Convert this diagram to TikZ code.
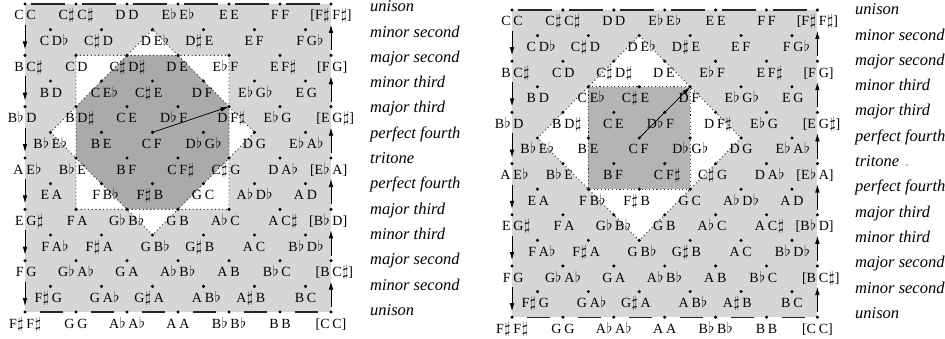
\documentclass[tikz,border=0pt]{standalone}
\usepackage{fontspec}
\setmainfont{Liberation Serif}
\usetikzlibrary{arrows.meta}
\definecolor{lightg}{RGB}{212,214,215}
\definecolor{darkgL}{RGB}{170,170,170}
\definecolor{darkgR}{RGB}{180,181,179}
\newcommand\shp{\kern0.6pt\scalebox{1.12}{$\sharp$}}
\newcommand\flt{\kern0.6pt\scalebox{1.05}{$\flat$}}
\tikzset{
  lab/.style={font=\fontsize{14}{16}\selectfont, inner sep=0pt},
  ivl/.style={font=\fontsize{16.5}{18}\selectfont\itshape, anchor=mid west, inner sep=0pt},
  dotb/.style={line width=0.9pt, dash pattern=on 1.1pt off 2.6pt, black!80},
  arr/.style={line width=0.75pt, -{Latex[length=8pt,width=4.6pt]}},
  topdash/.style={line width=1.1pt, black!85, dash pattern=on 34pt off 17pt, dash phase=45pt},
  botdash/.style={line width=1.1pt, black!85, dash pattern=on 23pt off 28pt, dash phase=36pt}
}
% one lattice point: #1 prefix, #2 row, #3 index, #4 x, #5 first note, #6 second note
\newcommand\latpt[6]{%
  \coordinate (#1-#2-#3) at ({#4},#2);
  \fill (#1-#2-#3) circle[radius=1.7pt];
  \node[lab, anchor=base east] at ([xshift=-1.2pt,yshift=-16pt]#1-#2-#3) {#5};
  \node[lab, anchor=base west] at ([xshift=1.2pt,yshift=-16pt]#1-#2-#3) {#6};
}
\newcommand\rowpts[4]{%
  \foreach \a/\b [count=\i from 0] in {#4} {\latpt{#1}{#2}{\i}{\i+#3}{\a}{\b}}%
}
\newcommand\alllabels[1]{%
  \rowpts{#1}{0}{0}{C/C, C\shp/C\shp, D/D, E\flt/E\flt, E/E, F/F, {[F\shp}/{F\shp]}}
  \rowpts{#1}{1}{0.5}{C/D\flt, C\shp/D, D/E\flt, D\shp/E, E/F, F/G\flt}
  \rowpts{#1}{2}{0}{B/C\shp, C/D, C\shp/D\shp, D/E, E\flt/F, E/F\shp, {[F}/{G]}}
  \rowpts{#1}{3}{0.5}{B/D, C/E\flt, C\shp/E, D/F, E\flt/G\flt, E/G}
  \rowpts{#1}{4}{0}{B\flt/D, B/D\shp, C/E, D\flt/F, D/F\shp, E\flt/G, {[E}/{G\shp]}}
  \rowpts{#1}{5}{0.5}{B\flt/E\flt, B/E, C/F, D\flt/G\flt, D/G, E\flt/A\flt}
  \rowpts{#1}{6}{0}{A/E\flt, B\flt/E, B/F, C/F\shp, C\shp/G, D/A\flt, {[E\flt}/{A]}}
  \rowpts{#1}{7}{0.5}{E/A, F/B\flt, F\shp/B, G/C, A\flt/D\flt, A/D}
  \rowpts{#1}{8}{0}{E/G\shp, F/A, G\flt/B\flt, G/B, A\flt/C, A/C\shp, {[B\flt}/{D]}}
  \rowpts{#1}{9}{0.5}{F/A\flt, F\shp/A, G/B\flt, G\shp/B, A/C, B\flt/D\flt}
  \rowpts{#1}{10}{0}{F/G, G\flt/A\flt, G/A, A\flt/B\flt, A/B, B\flt/C, {[B}/{C\shp]}}
  \rowpts{#1}{11}{0.5}{F\shp/G, G/A\flt, G\shp/A, A/B\flt, A\shp/B, B/C}
  \rowpts{#1}{12}{0}{F\shp/F\shp, G/G, A\flt/A\flt, A/A, B\flt/B\flt, B/B, {[C}/{C]}}
}
\newcommand\edges[1]{%
  \draw[topdash] (#1-0-0) -- (#1-0-6);
  \draw[botdash] (#1-12-0) -- (#1-12-6);
  \foreach \k in {0,2,...,10} {
    \pgfmathtruncatemacro\kk{\k+2}
    \draw[arr] ([yshift=-21pt]#1-\k-0) -- ([yshift=6pt]#1-\kk-0);
    \draw[arr] ([yshift=5pt]#1-\kk-6) -- ([yshift=-21pt]#1-\k-6);
  }
}
\begin{document}
\begin{tikzpicture}[x=1pt,y=-1pt]
\useasboundingbox (0,0) rectangle (945,339);
% ---------------- left panel ----------------
\begin{scope}[shift={(25pt,-4pt)}, x=51pt, y=-25.67pt]
  \fill[lightg] (0,0) rectangle (6,12);
  \fill[white] (1,2) -- (2,2) -- (2.5,1) -- (3,2) -- (4,2) -- (4,4) -- (4.5,5) -- (4,6) -- (4,8) -- (3,8) -- (2.5,9) -- (2,8) -- (1,8) -- (1,6) -- (0.5,5) -- (1,4) -- cycle;
  \fill[darkgL] (2,2) -- (3,2) -- (4,4) -- (4,6) -- (3,8) -- (2,8) -- (1,6) -- (1,4) -- cycle;
  \draw[dotb] (1,2) -- (2,2) -- (2.5,1) -- (3,2) -- (4,2) -- (4,4) -- (4.5,5) -- (4,6) -- (4,8) -- (3,8) -- (2.5,9) -- (2,8) -- (1,8) -- (1,6) -- (0.5,5) -- (1,4) -- cycle;
  \draw[dotb] (2,2) -- (3,2) -- (4,4) -- (4,6) -- (3,8) -- (2,8) -- (1,6) -- (1,4) -- cycle;
  \alllabels{L}
  \edges{L}
  \draw[arr, shorten >=0.5pt] (L-5-2) -- (L-4-4);
\end{scope}
% ---------------- right panel ----------------
\begin{scope}[shift={(512pt,-10pt)}, x=50.9pt, y=-25.6pt]
  \fill[lightg] (0,0) rectangle (6,12);
  \fill[white] (2.5,1) -- (4.5,5) -- (2.5,9) -- (0.5,5) -- cycle;
  \fill[darkgR] (1.5,3) -- (3.5,3) -- (3.5,7) -- (1.5,7) -- cycle;
  \draw[dotb] (2.5,1) -- (4.5,5) -- (2.5,9) -- (0.5,5) -- cycle;
  \draw[dotb] (1.5,3) -- (3.5,3) -- (3.5,7) -- (1.5,7) -- cycle;
  \alllabels{R}
  \edges{R}
  \draw[arr, shorten >=0.5pt] (R-5-2) -- (R-3-3);
\end{scope}
% ---------------- interval names ----------------
\foreach \t [count=\j from 0] in {unison, minor second, major second, minor third, major third, perfect fourth, tritone, perfect fourth, major third, minor third, major second, minor second, unison} {
  \node[ivl] (LI-\j) at (370, {9.5+25.3*\j}) {\t};
  \node[ivl] (RI-\j) at (855, {12.5+25.3*\j}) {\t};
}
\fill (907,165) circle[radius=0.6pt];
\end{tikzpicture}
\end{document}
